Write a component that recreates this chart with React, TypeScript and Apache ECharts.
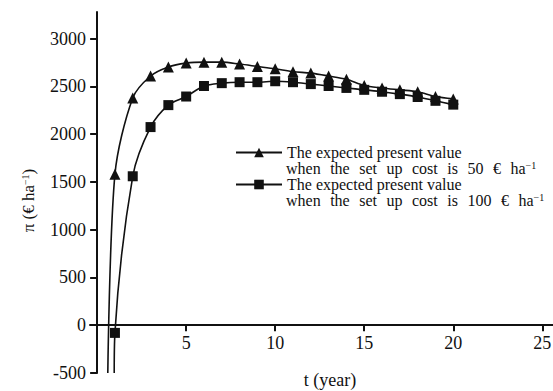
import React, { useEffect, useRef } from "react";
import * as echarts from "echarts";

const years = [1, 2, 3, 4, 5, 6, 7, 8, 9, 10, 11, 12, 13, 14, 15, 16, 17, 18, 19, 20];
const pv50 = [1580, 2380, 2610, 2705, 2745, 2755, 2755, 2735, 2710, 2685, 2655, 2640, 2610, 2575, 2510, 2485, 2465, 2445, 2395, 2370];
const pv100 = [-80, 1560, 2075, 2305, 2395, 2505, 2535, 2545, 2545, 2555, 2545, 2525, 2505, 2485, 2465, 2445, 2420, 2390, 2350, 2310];
// where each curve enters from the bottom of the plot (no marker)
const pv50Entry = [0.6, -500];
const pv100Entry = [0.96, -500];
const yTicks = [-500, 0, 500, 1000, 1500, 2000, 2500, 3000];
const xTicks = [5, 10, 15, 20, 25];
const legendLine1 = "The expected present value";
const legendLine2 = ["when the set up cost is 50 € ha", "when the set up cost is 100 € ha"];
const name50 = "set up cost 50";
const name100 = "set up cost 100";

const FONT = "Liberation Serif";
const X_MIN = -0.4;
const X_MAX = 25.6;
const Y_MIN = -500;
const Y_MAX = 3280;
const GRID_LEFT = 90;
const GRID_TOP = 12;
const GRID_BOTTOM = 18;
const W = 553;
const H = 391;

export default function App() {
  const ref = useRef<HTMLDivElement>(null);
  useEffect(() => {
    if (!ref.current) return;
    const chart = echarts.init(ref.current, null, { renderer: "svg" });
    const sup = { fontSize: 10, fontFamily: FONT, fill: "#111", color: "#111", verticalAlign: "top", lineHeight: 10 };
    const mkLegend = (name: string, top: number) => ({
      data: [name],
      left: 235,
      top,
      padding: 0,
      itemWidth: 46,
      itemHeight: 12,
      itemGap: 0,
      selectedMode: false,
      formatter: () => legendLine1,
      textStyle: { fontFamily: FONT, fontSize: 16, lineHeight: 17, color: "#111" },
    });
    const spaced = (s: string) => s.split(" ").join("{s| }") + "{sup|−1}";
    const mkLine2 = (text: string, y: number) => ({
      type: "text",
      left: 286,
      top: y,
      style: {
        text: spaced(text),
        fontFamily: FONT,
        fontSize: 16,
        lineHeight: 17,
        fill: "#111",
        rich: {
          s: { width: 9.5, fontFamily: FONT, fontSize: 16, lineHeight: 17 },
          sup,
        },
      },
    });
    const mkData = (entry: number[], vals: number[]) => [
      { value: entry, symbol: "none" },
      ...vals.map((v, i) => [years[i], v]),
    ];
    // axes cross at (0, 0), inside the grid
    const yOffset = -((0 - X_MIN) / (X_MAX - X_MIN)) * (W - GRID_LEFT);
    const xOffset = -((0 - Y_MIN) / (Y_MAX - Y_MIN)) * (H - GRID_TOP - GRID_BOTTOM);
    chart.setOption({
      animation: false,
      backgroundColor: "#fff",
      grid: { left: GRID_LEFT, right: 0, top: GRID_TOP, bottom: GRID_BOTTOM, outerBoundsMode: "none", containLabel: false },
      legend: [mkLegend(name50, 144), mkLegend(name100, 176)],
      graphic: [mkLine2(legendLine2[0], 160), mkLine2(legendLine2[1], 192)],
      xAxis: {
        type: "value",
        min: X_MIN,
        max: X_MAX,
        position: "bottom",
        offset: xOffset,
        name: "t (year)",
        nameLocation: "middle",
        nameGap: 46,
        nameTextStyle: { fontFamily: FONT, fontSize: 18, color: "#111", padding: [0, 0, 0, 17] },
        axisLine: { onZero: false, lineStyle: { color: "#111", width: 2 } },
        axisTick: { customValues: xTicks, length: 6, lineStyle: { color: "#111", width: 2 } },
        axisLabel: {
          customValues: xTicks,
          formatter: (v: number) => String(v),
          fontFamily: FONT,
          fontSize: 18,
          color: "#111",
          margin: 9,
        },
        splitLine: { show: false },
      },
      yAxis: {
        type: "value",
        min: Y_MIN,
        max: Y_MAX,
        position: "left",
        offset: yOffset,
        name: "π (€ ha{sup|−1})",
        nameLocation: "middle",
        nameRotate: 90,
        nameGap: 60,
        nameTextStyle: {
          fontFamily: FONT,
          fontSize: 17,
          color: "#111",
          padding: [0, 0, 0, -16],
          rich: { sup: { ...sup, fontSize: 10, lineHeight: 10 } },
        },
        axisLine: { onZero: false, lineStyle: { color: "#111", width: 2 } },
        axisTick: { customValues: yTicks, length: 7, lineStyle: { color: "#111", width: 2 } },
        axisLabel: {
          customValues: yTicks,
          formatter: (v: number) => String(v),
          fontFamily: FONT,
          fontSize: 18,
          color: "#111",
          margin: 11,
        },
        splitLine: { show: false },
      },
      series: [
        {
          name: name50,
          type: "line",
          data: mkData(pv50Entry, pv50),
          smooth: 0.3,
          symbol: "triangle",
          symbolSize: 11,
          lineStyle: { color: "#111", width: 1.6 },
          itemStyle: { color: "#111" },
        },
        {
          name: name100,
          type: "line",
          data: mkData(pv100Entry, pv100),
          smooth: 0.3,
          symbol: "rect",
          symbolSize: 10,
          lineStyle: { color: "#111", width: 1.6 },
          itemStyle: { color: "#111" },
        },
      ],
    });
    return () => chart.dispose();
  }, []);
  return <div ref={ref} style={{ width: 553, height: 391, position: "absolute", left: 0, top: 0 }} />;
}
